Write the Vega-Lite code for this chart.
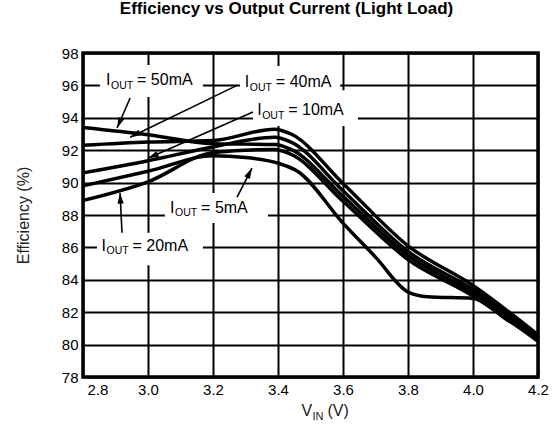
{
  "$schema": "https://vega.github.io/schema/vega-lite/v6.json",
  "width": 455,
  "height": 324,
  "autosize": "none",
  "padding": {"left": 83, "top": 53, "right": 17, "bottom": 51},
  "background": "white",
  "title": {
    "text": "Efficiency vs Output Current (Light Load)",
    "fontSize": 17,
    "fontWeight": "bold",
    "font": "Liberation Sans",
    "color": "black",
    "anchor": "middle",
    "dx": -24,
    "offset": 28
  },
  "config": {
    "font": "Liberation Sans",
    "view": {"stroke": "black", "strokeWidth": 3.5},
    "axis": {
      "domain": false,
      "ticks": false,
      "grid": true,
      "gridColor": "black",
      "gridWidth": 2,
      "gridOpacity": 1,
      "labelFont": "Liberation Sans",
      "labelFontSize": 15,
      "labelColor": "black",
      "labelPadding": 5,
      "labelOverlap": false,
      "labelFlush": false,
      "titleFont": "Liberation Sans",
      "titleFontSize": 16,
      "titleFontWeight": "normal",
      "titleColor": "#222"
    }
  },
  "datasets": {
    "curves": [
      {"I": "5mA", "v": 2.8, "eff": 89.8}, {"I": "5mA", "v": 3.0, "eff": 90.7}, {"I": "5mA", "v": 3.2, "eff": 91.65}, {"I": "5mA", "v": 3.3, "eff": 91.55}, {"I": "5mA", "v": 3.4, "eff": 91.2}, {"I": "5mA", "v": 3.46, "eff": 90.7}, {"I": "5mA", "v": 3.6, "eff": 87.5}, {"I": "5mA", "v": 3.7, "eff": 85.4}, {"I": "5mA", "v": 3.8, "eff": 83.25}, {"I": "5mA", "v": 3.86, "eff": 82.95}, {"I": "5mA", "v": 4.0, "eff": 82.85}, {"I": "5mA", "v": 4.1, "eff": 81.6}, {"I": "5mA", "v": 4.2, "eff": 80.3},
      {"I": "20mA", "v": 2.8, "eff": 88.9}, {"I": "20mA", "v": 3.0, "eff": 90.05}, {"I": "20mA", "v": 3.2, "eff": 91.85}, {"I": "20mA", "v": 3.39, "eff": 92.05}, {"I": "20mA", "v": 3.44, "eff": 91.75}, {"I": "20mA", "v": 3.6, "eff": 88.85}, {"I": "20mA", "v": 3.8, "eff": 85.25}, {"I": "20mA", "v": 4.0, "eff": 83.0}, {"I": "20mA", "v": 4.2, "eff": 80.2},
      {"I": "50mA", "v": 2.8, "eff": 93.4}, {"I": "50mA", "v": 3.0, "eff": 92.95}, {"I": "50mA", "v": 3.2, "eff": 92.4}, {"I": "50mA", "v": 3.39, "eff": 92.35}, {"I": "50mA", "v": 3.44, "eff": 92.05}, {"I": "50mA", "v": 3.6, "eff": 89.15}, {"I": "50mA", "v": 3.8, "eff": 85.5}, {"I": "50mA", "v": 4.0, "eff": 83.2}, {"I": "50mA", "v": 4.2, "eff": 80.35},
      {"I": "10mA", "v": 2.8, "eff": 90.6}, {"I": "10mA", "v": 3.0, "eff": 91.35}, {"I": "10mA", "v": 3.2, "eff": 92.2}, {"I": "10mA", "v": 3.39, "eff": 92.8}, {"I": "10mA", "v": 3.44, "eff": 92.5}, {"I": "10mA", "v": 3.6, "eff": 89.5}, {"I": "10mA", "v": 3.8, "eff": 85.75}, {"I": "10mA", "v": 4.0, "eff": 83.4}, {"I": "10mA", "v": 4.2, "eff": 80.45},
      {"I": "40mA", "v": 2.8, "eff": 92.3}, {"I": "40mA", "v": 3.0, "eff": 92.5}, {"I": "40mA", "v": 3.2, "eff": 92.6}, {"I": "40mA", "v": 3.39, "eff": 93.3}, {"I": "40mA", "v": 3.44, "eff": 93.0}, {"I": "40mA", "v": 3.6, "eff": 89.95}, {"I": "40mA", "v": 3.8, "eff": 86.1}, {"I": "40mA", "v": 4.0, "eff": 83.65}, {"I": "40mA", "v": 4.2, "eff": 80.6}
    ],
    "labels": [
      {"rest": "= 50mA", "v": 2.871, "eff": 96.0, "bx1": 2.852, "bx2": 3.169, "by1": 97.26, "by2": 95.28},
      {"rest": "= 40mA", "v": 3.298, "eff": 95.9, "bx1": 3.283, "bx2": 3.591, "by1": 97.2, "by2": 95.28},
      {"rest": "= 10mA", "v": 3.336, "eff": 94.17, "bx1": 3.323, "bx2": 3.646, "by1": 95.7, "by2": 93.5},
      {"rest": "= 5mA", "v": 3.068, "eff": 88.15, "bx1": 3.052, "bx2": 3.369, "by1": 89.36, "by2": 87.5},
      {"rest": "= 20mA", "v": 2.857, "eff": 85.8, "bx1": 2.843, "bx2": 3.169, "by1": 86.9, "by2": 84.9}
    ],
    "arrows": [
      {"v": 2.945, "eff": 95.22, "v2": 2.905, "eff2": 93.37, "ang": 203},
      {"v": 3.274, "eff": 96.0, "v2": 2.945, "eff2": 92.8, "ang": 244},
      {"v": 3.323, "eff": 94.36, "v2": 3.0, "eff2": 91.5, "ang": 246},
      {"v": 3.274, "eff": 89.1, "v2": 3.32, "eff2": 90.9, "ang": 27},
      {"v": 2.92, "eff": 86.9, "v2": 2.914, "eff2": 89.36, "ang": 357}
    ],
    "xtitle": [{"v": 3.472, "eff": 75.6}]
  },
  "layer": [
    {
      "data": {"name": "labels"},
      "mark": {"type": "rect", "color": "white"},
      "encoding": {
        "x": {"field": "bx1", "type": "quantitative", "scale": {"domain": [2.8, 4.2], "nice": false, "zero": false},
              "axis": {"values": [2.8, 3.0, 3.2, 3.4, 3.6, 3.8, 4.0, 4.2], "format": ".1f", "title": null, "tickCount": 8,
                       "labelAlign": {"condition": {"test": "datum.value < 2.85", "value": "left"}, "value": "center"},
                       "labelOffset": {"condition": {"test": "datum.value < 2.85", "value": 4}, "value": 0}}},
        "x2": {"field": "bx2"},
        "y": {"field": "by1", "type": "quantitative", "scale": {"domain": [78, 98], "nice": false, "zero": false},
              "axis": {"values": [78, 80, 82, 84, 86, 88, 90, 92, 94, 96, 98], "tickCount": 11, "format": "d", "title": "Efficiency (%)", "titlePadding": 30}},
        "y2": {"field": "by2"}
      }
    },
    {
      "data": {"name": "curves"},
      "mark": {"type": "line", "color": "black", "strokeWidth": 3.5, "interpolate": "monotone"},
      "encoding": {
        "x": {"field": "v", "type": "quantitative"},
        "y": {"field": "eff", "type": "quantitative"},
        "detail": {"field": "I"}
      }
    },
    {
      "data": {"name": "arrows"},
      "mark": {"type": "rule", "color": "black", "strokeWidth": 1.6},
      "encoding": {
        "x": {"field": "v", "type": "quantitative"},
        "y": {"field": "eff", "type": "quantitative"},
        "x2": {"field": "v2"},
        "y2": {"field": "eff2"}
      }
    },
    {
      "data": {"name": "arrows"},
      "mark": {"type": "point", "filled": true, "color": "black", "opacity": 1, "shape": "M0,0L-0.7,2.4L0.7,2.4Z", "size": 80},
      "encoding": {
        "x": {"field": "v2", "type": "quantitative"},
        "y": {"field": "eff2", "type": "quantitative"},
        "angle": {"field": "ang", "type": "quantitative", "scale": null}
      }
    },
    {
      "data": {"name": "labels"},
      "mark": {"type": "text", "align": "left", "baseline": "alphabetic", "fontSize": 16, "color": "black", "text": "I"},
      "encoding": {
        "x": {"field": "v", "type": "quantitative"},
        "y": {"field": "eff", "type": "quantitative"}
      }
    },
    {
      "data": {"name": "labels"},
      "mark": {"type": "text", "align": "left", "baseline": "alphabetic", "fontSize": 10.5, "color": "black", "text": "OUT", "dx": 5, "dy": 3.5},
      "encoding": {
        "x": {"field": "v", "type": "quantitative"},
        "y": {"field": "eff", "type": "quantitative"}
      }
    },
    {
      "data": {"name": "labels"},
      "mark": {"type": "text", "align": "left", "baseline": "alphabetic", "fontSize": 16, "color": "black", "dx": 31},
      "encoding": {
        "x": {"field": "v", "type": "quantitative"},
        "y": {"field": "eff", "type": "quantitative"},
        "text": {"field": "rest"}
      }
    },
    {
      "data": {"name": "xtitle"},
      "mark": {"type": "text", "align": "left", "baseline": "alphabetic", "fontSize": 16, "color": "#222", "text": "V"},
      "encoding": {
        "x": {"field": "v", "type": "quantitative"},
        "y": {"field": "eff", "type": "quantitative"}
      }
    },
    {
      "data": {"name": "xtitle"},
      "mark": {"type": "text", "align": "left", "baseline": "alphabetic", "fontSize": 11, "color": "#222", "text": "IN", "dx": 11, "dy": 4},
      "encoding": {
        "x": {"field": "v", "type": "quantitative"},
        "y": {"field": "eff", "type": "quantitative"}
      }
    },
    {
      "data": {"name": "xtitle"},
      "mark": {"type": "text", "align": "left", "baseline": "alphabetic", "fontSize": 16, "color": "#222", "text": "(V)", "dx": 26},
      "encoding": {
        "x": {"field": "v", "type": "quantitative"},
        "y": {"field": "eff", "type": "quantitative"}
      }
    }
  ]
}
